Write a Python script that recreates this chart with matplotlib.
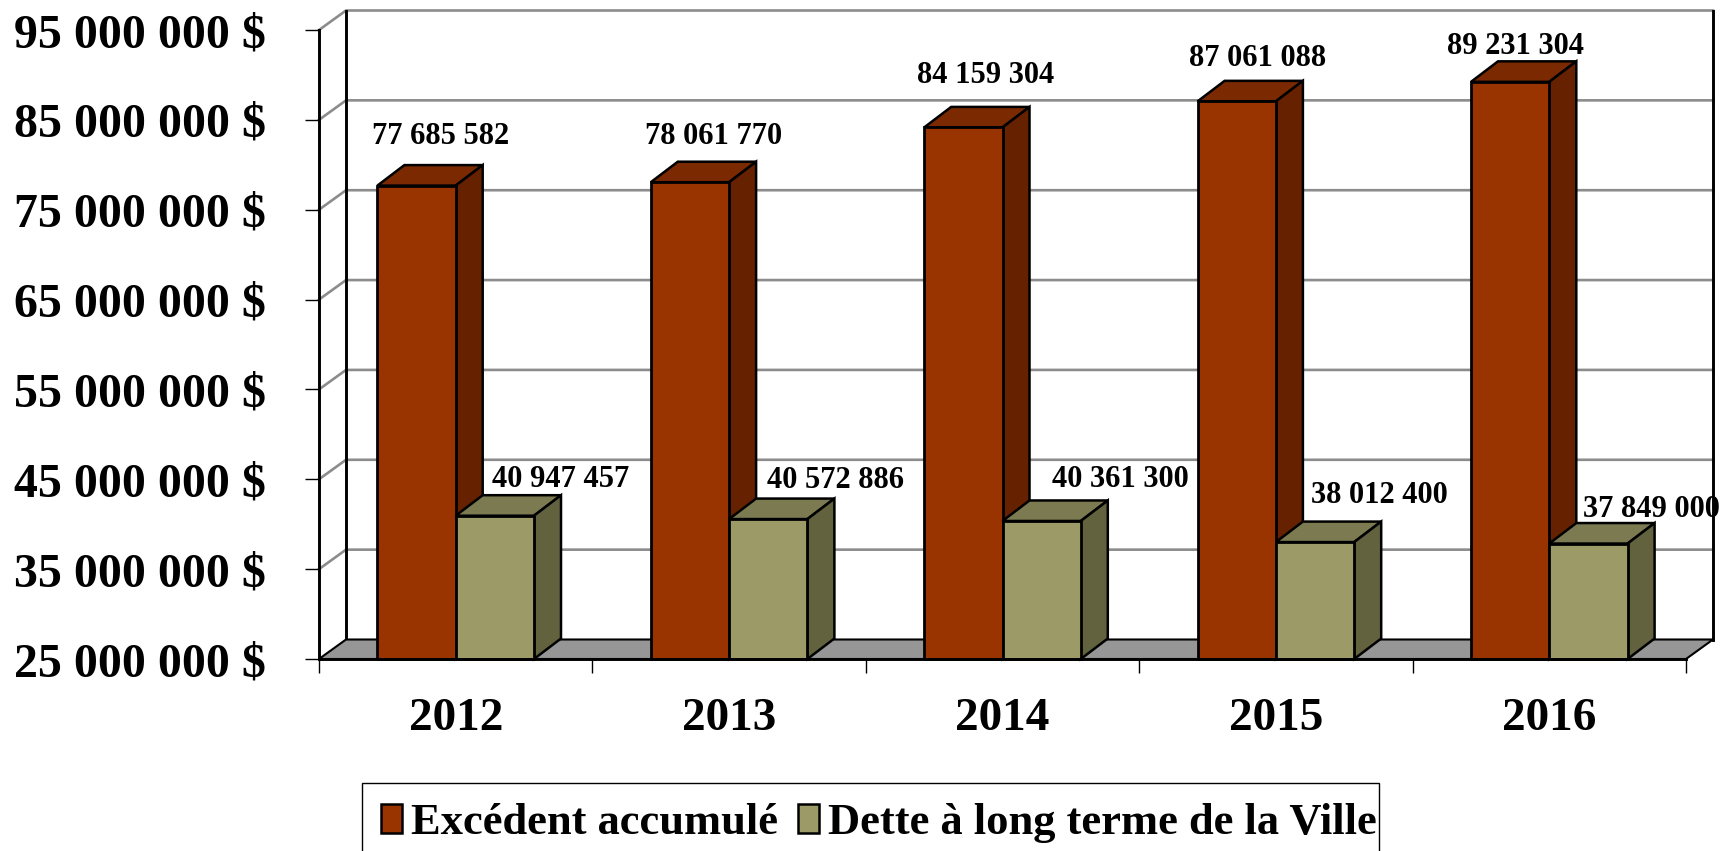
import matplotlib
matplotlib.use("Agg")
import matplotlib.pyplot as plt
from matplotlib.patches import Polygon, Patch, Rectangle

plt.rcParams['font.family'] = ['Liberation Serif', 'DejaVu Serif']
plt.rcParams['font.weight'] = 'bold'

###### DATA ##########
years = ['2012', '2013', '2014', '2015', '2016']
excedent = [77685582, 78061770, 84159304, 87061088, 89231304]
dette = [40947457, 40572886, 40361300, 38012400, 37849000]
y_ticks = [25000000, 35000000, 45000000, 55000000, 65000000, 75000000, 85000000, 95000000]
series_names = ['Excédent accumulé', 'Dette à long terme de la Ville']
######################

# label offsets from the top of each bar, in pixels
excedent_off = [(24, 49), (24, 46), (22, 52), (21, 43), (5, 35)]
dette_off = [(66, 36), (67, 39), (79, 41), (64, 47), (63, 34)]

W, H = 1735, 851
left, right, top, bottom = 319, 1686, 30, 659
bar_w = 78.3 / 273.4
depth_x = 27 / 273.4
depth_y = 20.5 / 629 * 70000000
floor_x = 27 / 273.4
floor_y = 19.5 / 629 * 70000000
ymin, ymax = y_ticks[0], y_ticks[-1]
n = len(years)

red = ('#993300', '#7a2900', '#662200')
olive = ('#9c9a66', '#7b7a51', '#62623f')
grid_col = '#8c8c8c'

fig = plt.figure(figsize=(W / 100, H / 100), dpi=100)
ax = fig.add_axes([left / W, 1 - bottom / H, (right - left) / W, (bottom - top) / H])
ax.set_xlim(0, n)
ax.set_ylim(ymin, ymax)


def fmt(v):
    return '{:,}'.format(v).replace(',', ' ')


# walls and gridlines
for v in y_ticks[1:]:
    ax.plot([0, floor_x, n + floor_x], [v, v + floor_y, v + floor_y], color=grid_col, lw=1.9,
            clip_on=False, zorder=1, solid_joinstyle='miter')
ax.plot([floor_x, floor_x], [ymin + floor_y, ymax + floor_y], color='k', lw=2.1, clip_on=False, zorder=2)
ax.plot([n + floor_x, n + floor_x], [ymin + floor_y, ymax + floor_y], color='k', lw=2.1, clip_on=False, zorder=2)

# floor
ax.add_patch(Polygon([(0, ymin), (floor_x, ymin + floor_y), (n + floor_x, ymin + floor_y), (n, ymin)],
                     closed=True, facecolor='#969696', edgecolor='k', lw=1.5, clip_on=False, zorder=3))


def draw_bars(values, x_shift, cols, offs):
    for i, v in enumerate(values):
        x0 = i + 0.5 + x_shift
        x1 = x0 + bar_w
        ax.bar(x0, v - ymin, width=bar_w, bottom=ymin, align='edge', color=cols[0],
               edgecolor='k', linewidth=2, clip_on=False, zorder=5)
        ax.add_patch(Polygon([(x0, v), (x0 + depth_x, v + depth_y), (x1 + depth_x, v + depth_y), (x1, v)],
                             closed=True, facecolor=cols[1], edgecolor='k', lw=1.8, clip_on=False, zorder=4))
        ax.add_patch(Polygon([(x1, ymin), (x1 + depth_x, ymin + depth_y), (x1 + depth_x, v + depth_y), (x1, v)],
                             closed=True, facecolor=cols[2], edgecolor='k', lw=1.8, clip_on=False, zorder=4))
        ax.annotate(fmt(v), xy=(x0 + bar_w / 2, v), xytext=(offs[i][0] * 0.72, offs[i][1] * 0.72),
                    textcoords='offset points', ha='center', va='center', fontsize=22,
                    annotation_clip=False, zorder=8)


draw_bars(excedent, -bar_w, red, excedent_off)
# olive drawn in a later layer so it sits over the red side face
n_before = len(ax.patches)
draw_bars(dette, 0, olive, dette_off)
for p in ax.patches[n_before:]:
    p.set_zorder(p.get_zorder() + 2)

# axes
for s in ['top', 'right']:
    ax.spines[s].set_visible(False)
ax.patch.set_visible(False)
ax.spines['left'].set_linewidth(2.1)
ax.spines['bottom'].set_linewidth(2.1)
ax.spines['bottom'].set_zorder(9)
ax.set_yticks(y_ticks)
ax.set_yticklabels([fmt(v) + ' $' for v in y_ticks], fontsize=34.5, fontweight='bold')
ax.tick_params(axis='y', length=10, width=1, pad=28)
ax.set_xticks(range(n + 1))
ax.set_xticklabels([])
ax.tick_params(axis='x', which='major', length=10, width=1)
ax.set_xticks([i + 0.5 for i in range(n)], minor=True)
ax.set_xticklabels(years, minor=True, fontsize=34, fontweight='bold')
ax.tick_params(axis='x', which='minor', length=0, pad=28)

# legend frame is drawn by hand, its bottom falls off the picture
fig.add_artist(Rectangle((362 / W, -10 / H), (1379 - 362) / W, (851 - 783 + 10) / H, transform=fig.transFigure,
                         facecolor='white', edgecolor='k', lw=1))
handles = [Patch(facecolor=red[0], edgecolor='k', lw=1.8), Patch(facecolor=olive[0], edgecolor='k', lw=1.8)]
leg = fig.legend(handles, series_names, ncol=2, loc='upper left', bbox_to_anchor=(381 / W, 1 - 803 / H),
                 borderaxespad=0, fontsize=32, frameon=False,
                 handlelength=0.48, handleheight=0.62, handletextpad=0.2, columnspacing=0.44, borderpad=0)

plt.savefig('out.png', dpi=100)
